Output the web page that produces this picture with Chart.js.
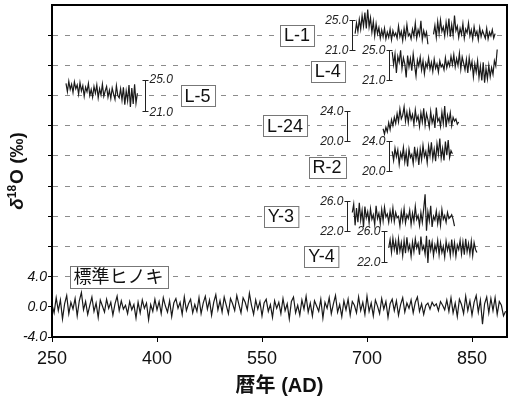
<!DOCTYPE html>
<html lang="ja">
<head>
<meta charset="UTF-8">
<title>δ18O 年輪セルロース</title>
<script src="https://cdn.jsdelivr.net/npm/chart.js@4.4.1/dist/chart.umd.min.js"></script>
<style>
  html, body { margin: 0; padding: 0; background: #fff; }
  #wrap { width: 515px; height: 401px; }
</style>
</head>
<body>
<div id="wrap"><canvas id="c" width="515" height="401"></canvas></div>
<script>
// series names, first year, year step, stacking offset
const names = ['標準ヒノキ', 'L-1', 'L-4', 'L-5', 'L-24', 'R-2', 'Y-3', 'Y-4'];
const startYears = [250, 683, 736, 270, 723, 736, 679, 731];
const yearSteps = [3, 2, 2, 2, 2, 2, 2, 2];
const offsets = [0, 13, 9, 5, 2, -2, -12, -16];

// δ18O values (‰)
const hinoki = [
  0.3, -0.8, 1.2, -0.5, 0.9, -1.6, 0.4, 1.5, -0.9, 0.6,
  -0.3, 1.1, -1.2, 0.8, 1.9, -0.4, 0.7, -1.0, 0.2, 1.3,
  -0.6, 0.5, -1.4, 0.9, 0.1, -0.7, 1.0, -0.2, 0.6, -1.1,
  0.4, 1.4, -0.5, 0.8, -0.3, 0.2, -0.9, 0.7, -0.4, 0.3,
  -1.5, 0.6, -0.8, 0.9, -0.2, 0.5, -1.7, 0.3, -0.6, 1.0,
  -0.4, 0.7, -0.9, 1.2, 0.1, -0.7, 0.8, -1.3, 0.5, 1.1,
  -0.2, 0.6, -1.0, 1.3, -0.5, 0.4, 1.0, -0.8, 0.3, -0.6,
  1.2, -0.9, 0.5, 1.4, -0.3, 0.9, -1.1, 0.6, 1.6, -0.4,
  0.8, -0.7, 1.3, 0.2, -0.9, 1.1, 0.4, -0.5, 1.5, 0.3,
  -0.8, 1.2, 0.6, -0.4, 1.8, 0.2, -1.0, 0.9, -0.3, 0.7,
  -1.2, 0.5, 1.0, -0.6, 0.3, -1.4, 0.8, -0.2, 0.6, -0.9,
  1.1, -0.5, 0.4, -1.6, 0.7, 1.3, -0.8, 0.2, -1.1, 0.9,
  -0.3, 1.4, -0.7, 0.5, -1.2, 0.8, 0.1, -0.6, 1.0, -1.5,
  0.6, -0.2, 1.2, -0.9, 0.4, 1.5, -0.7, 0.3, -1.3, 0.8,
  -0.4, 1.0, -1.1, 0.7, 0.2, -0.8, 1.3, -0.5, 0.6, -1.0,
  1.4, -0.6, 0.5, -1.2, 0.9, 0.1, -0.9, 1.1, -0.3, 0.7,
  -1.4, 0.4, 1.0, -0.5, 0.8, -1.1, 0.3, 1.2, -0.7, 0.5,
  -0.2, 0.9, -0.8, 0.6, 1.3, -0.6, 0.4, -1.0, 0.2, 0.5,
  -0.3, 0.6, 0.1, 0.4, -0.5, 0.7, 0.2, -0.4, 0.9, -0.6,
  1.2, -0.8, 0.5, -1.3, 1.0, 0.3, -0.9, 1.4, -0.5, 0.8,
  -1.1, 0.6, 1.5, -0.7, 0.9, -2.3, 0.4, 1.3, -0.8, 1.1,
  -0.5, 1.2, -1.0, 0.7, 0.2, -1.2, -0.6
];
const l1 = [
  23.2, 24.6, 23.5, 25.1, 23.8, 25.6, 24.2, 26.0, 23.9, 26.4,
  24.1, 25.3, 23.4, 24.8, 22.9, 24.5, 23.2, 24.0, 22.6, 23.7,
  22.8, 23.9, 22.5, 23.4, 22.7, 23.8, 22.4, 23.6, 22.9, 23.3,
  22.6, 24.2, 22.8, 23.5, 22.3, 23.9, 22.7, 24.4, 22.9, 23.2,
  22.5, 23.8, 22.9, 24.6, 22.6, 23.7, 23.0, 24.9, 22.4, 23.6,
  22.8, 23.4, 21.8, null, null, null, 23.1, 24.3, 22.7, 24.8,
  23.2, 25.0, 23.5, 24.1, 22.9, 24.7, 23.3, 25.2, 22.8, 24.4,
  23.0, 25.6, 23.6, 24.2, 22.7, 23.9, 23.1, 24.5, 22.6, 23.8,
  23.3, 24.6, 22.9, 23.7, 22.5, 24.1, 23.0, 23.5, 22.4, 24.0,
  22.8, 23.6, 23.1, 22.6, 23.9, 22.5, 23.4, 22.9, 23.7, 22.6,
  23.2
];
const l4 = [
  24.8, 23.1, 24.5, 22.0, 24.2, 23.4, 25.0, 22.6, 24.0, 23.2,
  21.4, 24.3, 22.8, 23.9, 22.3, 24.5, 23.0, 21.6, 23.7, 22.9,
  24.1, 22.4, 23.6, 21.9, 23.3, 22.7, 24.0, 22.5, 23.4, 22.2,
  23.8, 22.6, 23.2, 22.1, 23.6, 22.8, 23.1, 22.4, 24.0, 22.7,
  23.5, 22.9, 24.2, 23.1, 24.4, 22.8, 23.9, 23.0, 24.6, 22.5,
  24.1, 23.3, 22.4, 23.8, 22.0, 24.0, 22.6, 23.5, 21.5, 23.2,
  22.1, 23.6, 21.4, 22.9, 21.0, 23.4, 20.7, 22.6, 21.2, 23.0,
  21.5, 22.7, 21.8, 23.6, 22.9, 25.1
];
const l5 = [
  24.6, 23.5, 24.9, 23.8, 24.5, 23.4, 24.8, 23.9, 24.4, 23.2,
  24.7, 23.6, 24.3, 22.9, 24.1, 23.5, 24.6, 23.0, 23.8, 22.8,
  24.2, 23.3, 24.4, 22.7, 23.9, 23.1, 24.5, 22.9, 23.6, 24.2,
  22.8, 23.7, 22.6, 24.0, 23.2, 22.5, 24.3, 23.0, 22.7, 23.9,
  22.4, 24.1, 21.8, 23.6, 22.3, 24.4, 21.5, 24.0, 21.9, 24.5,
  22.0, 23.3
];
const l24 = [
  21.6, 20.9, 21.8, 21.2, 22.4, 21.5, 22.8, 22.0, 23.1, 22.3,
  23.6, 22.5, 24.2, 22.9, 23.4, 24.5, 22.6, 23.8, 22.4, 24.0,
  22.8, 23.5, 22.2, 24.1, 22.7, 23.3, 21.9, 23.7, 22.5, 24.3,
  22.1, 23.6, 22.8, 21.8, 23.9, 22.4, 23.2, 21.7, 24.4, 22.6,
  23.0, 21.9, 23.8, 22.3, 24.6, 21.8, 23.4, 22.5, 23.7, 22.0,
  23.1, 22.6, 22.9, 22.2, 22.5
];
const r2 = [
  22.6, 21.4, 23.0, 21.9, 22.8, 20.9, 22.4, 21.7, 23.1, 21.2,
  22.5, 20.6, 22.9, 21.8, 22.2, 21.0, 23.2, 21.6, 22.7, 20.8,
  22.9, 21.5, 23.4, 21.9, 22.6, 21.1, 23.3, 22.0, 23.8, 21.6,
  22.9, 21.3, 23.6, 22.2, 24.3, 21.7, 23.0, 21.4, 23.9, 22.1,
  24.1, 21.8, 22.7, 22.3
];
const y3 = [
  24.5, 25.6, 22.8, 25.1, 23.2, 25.8, 23.5, 24.8, 22.6, 25.3,
  23.8, 24.6, 23.1, 25.0, 23.6, 24.2, 22.9, 25.4, 23.7, 24.4,
  23.0, 24.9, 23.4, 25.2, 23.9, 24.3, 23.2, 24.7, 23.5, 25.1,
  23.3, 24.5, 23.8, 24.0, 22.7, 24.6, 23.4, 25.0, 23.1, 24.2,
  23.7, 24.8, 22.9, 24.4, 23.3, 25.3, 23.6, 24.1, 22.8, 24.5,
  23.2, 25.0, 26.9, 22.1, 24.6, 23.4, 25.4, 22.6, 24.0, 23.5,
  24.7, 23.0, 24.3, 22.8, 24.9, 23.6, 24.1, 23.2, 24.5, 23.7,
  23.9, 24.2, 23.6, 22.7
];
const y4 = [
  23.8, 24.9, 23.2, 25.1, 23.6, 24.7, 22.9, 25.0, 23.4, 24.5,
  22.8, 24.8, 23.1, 25.2, 23.5, 24.2, 22.7, 24.6, 23.3, 25.0,
  23.8, 24.4, 22.9, 25.3, 23.6, 24.1, 23.0, 25.4, 21.8, 24.9,
  23.5, 24.6, 22.8, 24.2, 23.4, 24.8, 22.9, 24.5, 23.2, 24.0,
  22.6, 24.7, 23.5, 24.3, 22.8, 24.9, 23.1, 24.5, 22.7, 24.2,
  23.6, 24.8, 23.0, 24.6, 22.9, 25.0, 23.3, 24.4, 23.0, 24.7,
  22.8, 24.5, 23.6, 23.2
];
const seriesValues = [hinoki, l1, l4, l5, l24, r2, y3, y4];

// local scale bars (top / bottom value) and where they sit
const barTops = [null, 25, 25, 25, 24, 24, 26, 26];
const barBottoms = [null, 21, 21, 21, 20, 20, 22, 22];
const barYears = [null, 679, 731, 383, 671, 731, 671, 724];
const barLabelRight = [false, false, false, true, false, false, false, false];

// name boxes (year, plotted level)
const boxYears = [345, 600, 644, 458, 583, 643, 577, 635];
const boxLevels = [4, 36, 31.2, 28, 24, 18.5, 12, 6.7];

const xTicks = [250, 400, 550, 700, 850];
const yTicks = [-4, 0, 4, 8, 12, 16, 20, 24, 28, 32, 36];
const yLabelled = [-4, 0, 4];

const LATIN = "'Liberation Sans', Arial, 'Noto Sans CJK JP', sans-serif";

const datasets = names.map((n, k) => ({
  label: n,
  data: seriesValues[k].map((v, i) => ({
    x: startYears[k] + i * yearSteps[k],
    y: v === null ? null : v + offsets[k]
  })),
  borderColor: '#1a1a1a',
  borderWidth: 1.2,
  pointRadius: 0,
  tension: 0,
  spanGaps: false
}));

const overlay = {
  id: 'overlay',
  afterDatasetsDraw(chart) {
    const { ctx, chartArea: a, scales: { x, y } } = chart;
    ctx.save();

    // frame
    ctx.strokeStyle = '#000';
    ctx.lineWidth = 2;
    ctx.strokeRect(a.left, a.top, a.right - a.left, a.bottom - a.top);

    // scale bars
    ctx.lineWidth = 1;
    ctx.strokeStyle = '#222';
    ctx.fillStyle = '#222';
    ctx.font = 'italic 12px ' + LATIN;
    names.forEach((n, k) => {
      if (barTops[k] === null) return;
      const px = Math.round(x.getPixelForValue(barYears[k])) + 0.5;
      const yt = Math.round(y.getPixelForValue(barTops[k] + offsets[k])) + 0.5;
      const yb = Math.round(y.getPixelForValue(barBottoms[k] + offsets[k])) + 0.5;
      ctx.beginPath();
      ctx.moveTo(px, yt); ctx.lineTo(px, yb);
      ctx.moveTo(px - 3, yt); ctx.lineTo(px + 3, yt);
      ctx.moveTo(px - 3, yb); ctx.lineTo(px + 3, yb);
      ctx.stroke();
      ctx.textBaseline = 'middle';
      if (barLabelRight[k]) {
        ctx.textAlign = 'left';
        ctx.fillText(barTops[k].toFixed(1), px + 4, yt - 1);
        ctx.fillText(barBottoms[k].toFixed(1), px + 4, yb + 1);
      } else {
        ctx.textAlign = 'right';
        ctx.fillText(barTops[k].toFixed(1), px - 4, yt);
        ctx.fillText(barBottoms[k].toFixed(1), px - 4, yb);
      }
    });

    // name boxes
    names.forEach((n, k) => {
      const cjk = k === 0;
      ctx.font = '18px ' + LATIN;
      const w = ctx.measureText(n).width;
      const cx = x.getPixelForValue(boxYears[k]);
      const cy = y.getPixelForValue(boxLevels[k]);
      const bw = w + 8, bh = cjk ? 22 : 21;
      const bx = Math.round(cx - bw / 2) + 0.5, by = Math.round(cy - bh / 2) + 0.5;
      ctx.fillStyle = '#fff';
      ctx.fillRect(bx, by, bw, bh);
      ctx.strokeStyle = '#777';
      ctx.strokeRect(bx, by, bw, bh);
      ctx.fillStyle = '#111';
      ctx.textAlign = 'center';
      ctx.textBaseline = 'middle';
      ctx.fillText(n, cx, cy + 1);
    });

    // y title: δ18O (‰)
    const cy = (a.top + a.bottom) / 2;
    ctx.translate(18, cy);
    ctx.rotate(-Math.PI / 2);
    ctx.fillStyle = '#111';
    ctx.textBaseline = 'middle';
    ctx.textAlign = 'left';
    const parts = [
      { t: 'δ', f: 'bold italic 19px ' + LATIN, dy: 0 },
      { t: '18', f: 'bold 12px ' + LATIN, dy: -5 },
      { t: 'O (‰)', f: 'bold 19px ' + LATIN, dy: 0 }
    ];
    let total = 0;
    parts.forEach(p => { ctx.font = p.f; total += ctx.measureText(p.t).width + (p.t === '18' ? 1 : 0); });
    let cx = -total / 2;
    parts.forEach(p => {
      ctx.font = p.f;
      ctx.fillText(p.t, cx, p.dy);
      cx += ctx.measureText(p.t).width + (p.t === '18' ? 1 : 0);
    });
    ctx.restore();
  }
};

new Chart(document.getElementById('c'), {
  type: 'line',
  data: { datasets },
  options: {
    responsive: false,
    animation: false,
    devicePixelRatio: 1,
    layout: { padding: { left: 0, top: 5, right: 8, bottom: 0 } },
    plugins: { legend: { display: false }, tooltip: { enabled: false } },
    scales: {
      x: {
        type: 'linear',
        min: 250,
        max: 900,
        afterBuildTicks: s => { s.ticks = xTicks.map(v => ({ value: v })); },
        afterFit: s => { s.height = 64; s.paddingLeft = 0; s.paddingRight = 0; },
        ticks: { color: '#111', font: { size: 18, family: LATIN }, padding: 6, maxRotation: 0 },
        grid: { drawOnChartArea: false, tickLength: 5, color: '#000', tickColor: '#000', lineWidth: 1 },
        border: { color: '#000', width: 2 },
        title: {
          display: true,
          text: '暦年 (AD)',
          color: '#111',
          font: { size: 20, weight: 'bold', family: LATIN },
          padding: { top: 0, bottom: 3 }
        }
      },
      y: {
        type: 'linear',
        min: -4,
        max: 40,
        afterBuildTicks: s => { s.ticks = yTicks.map(v => ({ value: v })); },
        afterFit: s => { s.width = 52; s.paddingTop = 0; s.paddingBottom = 0; },
        ticks: {
          color: '#111',
          font: { size: 14, style: 'italic', family: LATIN },
          padding: 1,
          callback: v => yLabelled.includes(v) ? v.toFixed(1) : ''
        },
        grid: {
          color: c => (c.tick && c.tick.value >= 4 && c.tick.value <= 36) ? '#8c8c8c' : 'rgba(0,0,0,0)',
          tickColor: '#000',
          tickLength: 4,
          lineWidth: 1
        },
        border: { color: '#000', width: 2, dash: [5, 7] }
      }
    }
  },
  plugins: [overlay]
});
</script>
</body>
</html>
